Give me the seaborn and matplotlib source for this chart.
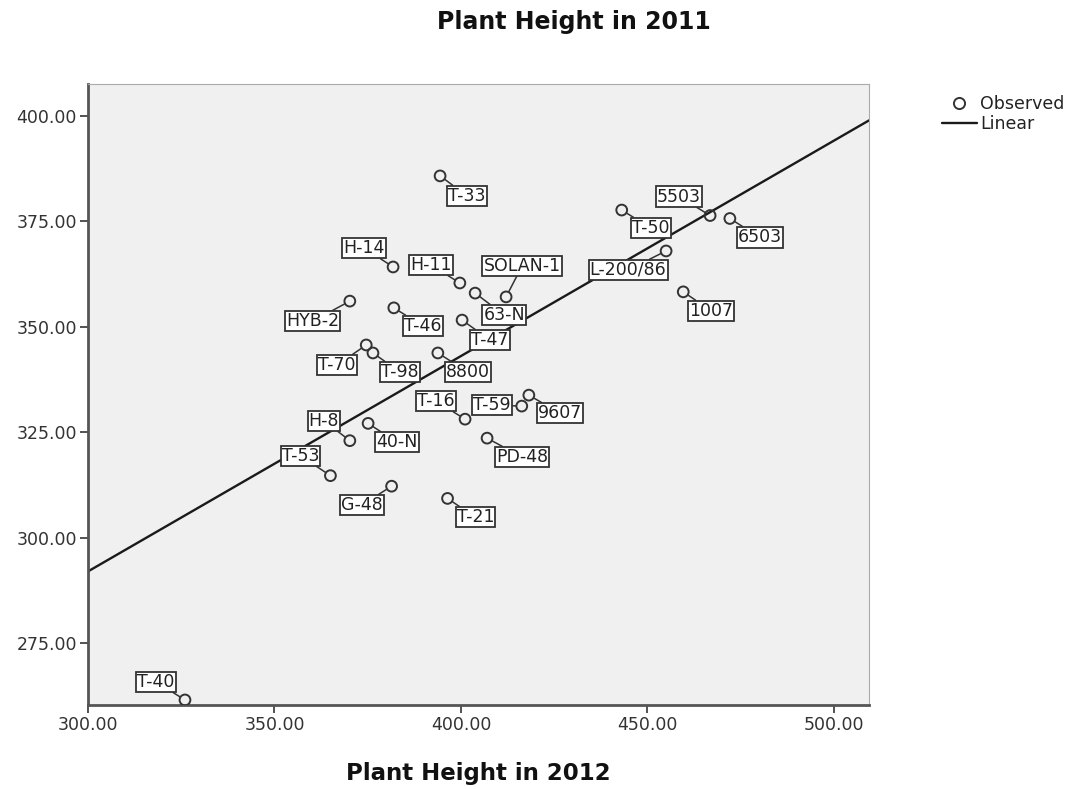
import matplotlib
matplotlib.use("Agg")
import matplotlib.pyplot as plt
from matplotlib.lines import Line2D
from matplotlib.ticker import FormatStrFormatter
import seaborn as sns
import pandas as pd

# ---- data ----
labels = ["T-33", "H-14", "H-11", "63-N", "SOLAN-1", "HYB-2", "T-46", "T-47",
          "T-70", "T-98", "8800", "T-16", "T-59", "9607", "H-8", "40-N",
          "T-53", "PD-48", "G-48", "T-21", "T-50", "5503", "6503", "L-200/86",
          "1007", "T-40"]
height_2012 = [394.4, 381.8, 399.7, 403.8, 412.1, 370.2, 382.0, 400.3,
               374.6, 376.4, 393.8, 401.1, 416.3, 418.2, 370.2, 375.1,
               365.0, 407.0, 381.4, 396.4, 443.1, 466.8, 472.1, 455.0,
               459.6, 326.0]
height_2011 = [385.8, 364.2, 360.4, 358.0, 357.1, 356.1, 354.5, 351.6,
               345.7, 343.8, 343.8, 328.1, 331.2, 333.8, 323.0, 327.1,
               314.7, 323.6, 312.2, 309.3, 377.7, 376.4, 375.7, 368.0,
               358.3, 261.5]
x_ticks = [300, 350, 400, 450, 500]
y_ticks = [275, 300, 325, 350, 375, 400]

# label offsets in pixels (dx right, dy down) -- layout only
label_offsets = {
    "T-33": (27, 20), "H-14": (-29, -19), "H-11": (-29, -18), "63-N": (29, 22),
    "SOLAN-1": (16, -31), "HYB-2": (-37, 20), "T-46": (29, 18), "T-47": (28, 20),
    "T-70": (-29, 20), "T-98": (27, 19), "8800": (30, 19), "T-16": (-29, -18),
    "T-59": (-30, -1), "9607": (31, 18), "H-8": (-26, -20), "40-N": (29, 19),
    "T-53": (-30, -20), "PD-48": (35, 19), "G-48": (-30, 19), "T-21": (28, 19),
    "T-50": (29, 18), "5503": (-31, -19), "6503": (30, 19), "L-200/86": (-38, 19),
    "1007": (28, 19), "T-40": (-29, -18),
}

df = pd.DataFrame({"label": labels, "x": height_2012, "y": height_2011})

sns.set_theme(style="white")
plt.rcParams["font.family"] = ["DejaVu Sans"]

fig = plt.figure(figsize=(10.75, 7.89), dpi=100)
ax = fig.add_axes([88 / 1075, 1 - 705 / 789, (869 - 88) / 1075, (705 - 84) / 789])
ax.set_facecolor("#f0f0f0")
ax.set_xlim(300, 509.4)
ax.set_ylim(260.3, 407.6)

sns.regplot(data=df, x="x", y="y", ax=ax, scatter=False, ci=None, truncate=False,
            line_kws={"color": "#1a1a1a", "lw": 1.7, "zorder": 2})
sns.scatterplot(data=df, x="x", y="y", ax=ax, marker="o", s=60,
                facecolors="none", edgecolor="#333333", linewidth=1.4, zorder=4)

for lab, xv, yv in zip(labels, height_2012, height_2011):
    dx, dy = label_offsets[lab]
    ax.annotate(lab, xy=(xv, yv), xytext=(dx, -dy), textcoords="offset pixels",
                ha="center", va="center", fontsize=12.5, color="#222222",
                bbox=dict(boxstyle="square,pad=0.06", fc="white", ec="#333333", lw=1.3),
                arrowprops=dict(arrowstyle="-", color="#333333", lw=1.1,
                                shrinkA=0, shrinkB=4),
                zorder=5)

ax.set_xticks(x_ticks)
ax.set_yticks(y_ticks)
ax.xaxis.set_major_formatter(FormatStrFormatter("%.2f"))
ax.yaxis.set_major_formatter(FormatStrFormatter("%.2f"))
ax.tick_params(axis="both", which="major", direction="out", length=6, width=1.3,
               color="#444444", labelsize=12.5, labelcolor="#333333", left=True,
               bottom=True, pad=2)
for side in ["left", "bottom"]:
    ax.spines[side].set_color("#555555")
    ax.spines[side].set_linewidth(2)
for side in ["top", "right"]:
    ax.spines[side].set_color("#aaaaaa")
    ax.spines[side].set_linewidth(0.8)

ax.set_xlabel("Plant Height in 2012", fontsize=16.5, fontweight="bold", labelpad=20,
              color="#111111")
ax.set_ylabel("")
fig.text(574 / 1075, 1 - 22 / 789, "Plant Height in 2011", ha="center", va="center",
         fontsize=17, fontweight="bold", color="#111111")

handles = [
    Line2D([], [], marker="o", ls="none", mfc="none", mec="#333333", mew=1.4, ms=8),
    Line2D([], [], color="#1a1a1a", lw=1.7),
]
fig.legend(handles, ["Observed", "Linear"], loc="upper left",
           bbox_to_anchor=(935 / 1075, 1 - 88 / 789), frameon=False, fontsize=12.5,
           handlelength=2.0, handletextpad=0.2, labelspacing=0.1, borderaxespad=0,
           labelcolor="#222222")

fig.savefig("out.png", dpi=100)
